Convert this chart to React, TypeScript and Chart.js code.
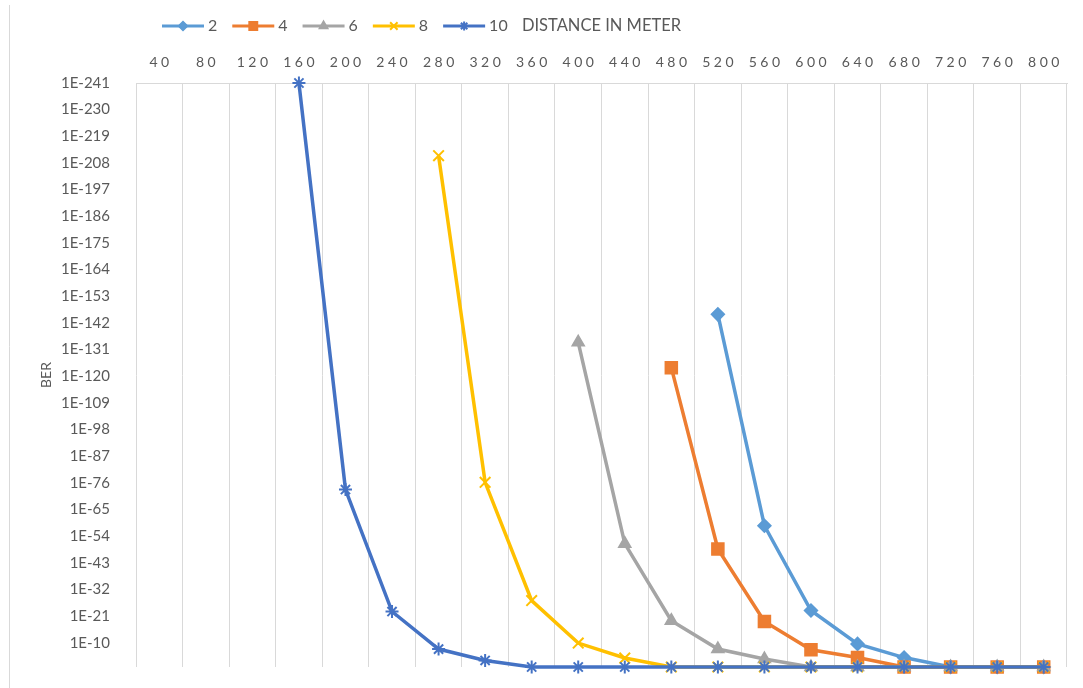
import { useEffect, useRef } from 'react';
import { Chart, registerables } from 'chart.js';
import { drawPoint } from 'chart.js/helpers';

Chart.register(...registerables);

// distance categories (metres), shown along the top
const DISTANCES = [
  '40', '80', '120', '160', '200', '240', '280', '320', '360', '400',
  '440', '480', '520', '560', '600', '640', '680', '720', '760', '800',
];

// BER per distance, one series per legend entry
const BER_2 = [null, null, null, null, null, null, null, null, null, null, null, null,
  3e-146, 5e-59, 5e-24, 3e-10, 1.3e-4, 1, 1, 1];
const BER_4 = [null, null, null, null, null, null, null, null, null, null, null,
  3e-124, 2e-49, 1.6e-19, 8e-8, 1.3e-4, 1, 1, 1, 1];
const BER_6 = [null, null, null, null, null, null, null, null, null,
  1e-134, 1.3e-51, 8e-20, 4e-8, 5e-4, 1, 1, 1, 1, 1, 1];
const BER_8 = [null, null, null, null, null, null,
  1e-211, 6e-77, 4e-28, 1.3e-10, 2e-4, 1, 1, 1, 1, 1, 1, 1, 1, 1];
const BER_10 = [null, null, null,
  1e-241, 6e-74, 1.3e-23, 4e-8, 2e-3, 1, 1, 1, 1, 1, 1, 1, 1, 1, 1, 1, 1];

const SERIES_LABELS = ['2', '4', '6', '8', '10'];
const SERIES_DATA = [BER_2, BER_4, BER_6, BER_8, BER_10];

// value axis labels (reversed log axis)
const Y_TICK_LABELS = [
  '1E-241', '1E-230', '1E-219', '1E-208', '1E-197', '1E-186', '1E-175', '1E-164',
  '1E-153', '1E-142', '1E-131', '1E-120', '1E-109', '1E-98', '1E-87', '1E-76',
  '1E-65', '1E-54', '1E-43', '1E-32', '1E-21', '1E-10',
];

const COLORS = ['#5B9BD5', '#ED7D31', '#A5A5A5', '#FFC000', '#4472C4'];
const MARKERS = ['rectRot', 'rect', 'triangle', 'crossRot', 'star'];
const MARKER_RADIUS = [6.5, 8.5, 7, 7.5, 6.5];
const TEXT = '#595959';
const GRID = '#D9D9D9';

// Excel-style legend (line + marker), spaced-out category labels and the left chart border
const excelDecor = {
  id: 'excelDecor',
  afterDraw(chart: any) {
    const ctx = chart.ctx;
    ctx.save();
    ctx.strokeStyle = GRID;
    ctx.lineWidth = 1;
    ctx.beginPath();
    ctx.moveTo(9.5, 5);
    ctx.lineTo(9.5, 688);
    ctx.stroke();

    // category labels, letter-spaced like the original
    const xScale = chart.scales.x;
    const spacing = 3.5;
    ctx.font = '14px Lato';
    ctx.fillStyle = TEXT;
    ctx.textAlign = 'center';
    ctx.textBaseline = 'middle';
    ctx.letterSpacing = spacing + 'px';
    xScale.ticks.forEach((t: any, i: number) => {
      const px = xScale.getPixelForTick(i);
      ctx.fillText(xScale.getLabelForValue(t.value), px + spacing / 2, 62);
    });
    ctx.letterSpacing = '0px';

    ctx.font = '16px Lato';
    ctx.textAlign = 'left';
    let x = 162;
    const y = 26;
    chart.data.datasets.forEach((ds: any) => {
      ctx.strokeStyle = ds.borderColor;
      ctx.lineWidth = 3;
      ctx.beginPath();
      ctx.moveTo(x, y);
      ctx.lineTo(x + 42, y);
      ctx.stroke();
      ctx.fillStyle = ds.pointBackgroundColor;
      ctx.strokeStyle = ds.pointBorderColor;
      ctx.lineWidth = ds.pointBorderWidth;
      drawPoint(ctx, {
        pointStyle: ds.pointStyle,
        radius: ds.pointRadius * 0.7,
        rotation: 0,
        borderWidth: ds.pointBorderWidth,
      }, x + 21, y);
      ctx.fillStyle = TEXT;
      ctx.fillText(ds.label, x + 46, y);
      x += 46 + ctx.measureText(ds.label).width + 15;
    });
    ctx.restore();
  },
};

export default function App() {
  const canvasRef = useRef<HTMLCanvasElement>(null);

  useEffect(() => {
    if (!canvasRef.current) return;
    Chart.defaults.font.family = 'Lato';

    const chart = new Chart(canvasRef.current, {
      type: 'line',
      data: {
        labels: DISTANCES,
        datasets: SERIES_DATA.map((values, i) => ({
          label: SERIES_LABELS[i],
          data: values,
          borderColor: COLORS[i],
          backgroundColor: COLORS[i],
          pointBackgroundColor: COLORS[i],
          pointBorderColor: COLORS[i],
          pointStyle: MARKERS[i],
          pointRadius: MARKER_RADIUS[i],
          pointBorderWidth: i >= 3 ? 2 : 1.5,
          borderWidth: 3.5,
          tension: 0,
          clip: false,
          order: SERIES_DATA.length - i,
        })),
      },
      options: {
        responsive: false,
        animation: false,
        layout: { padding: { top: 0, left: 0, right: 16, bottom: 21 } },
        plugins: {
          legend: { display: false },
          tooltip: { enabled: false },
        },
        scales: {
          x: {
            type: 'category',
            position: 'top',
            offset: true,
            grid: { offset: true, color: GRID, lineWidth: 1, drawTicks: false },
            border: { display: true, color: GRID, width: 1 },
            ticks: { display: false, autoSkip: false, maxRotation: 0 },
            title: {
              display: true,
              text: 'DISTANCE IN METER',
              color: TEXT,
              font: { size: 16.5 },
              padding: { top: 16, bottom: 0 },
            },
            afterFit: (s: any) => {
              s.height = 83;
            },
          },
          y: {
            type: 'logarithmic',
            reverse: true,
            min: 1e-241,
            max: 1,
            grid: { display: false },
            border: { display: false },
            afterBuildTicks: (s: any) => {
              s.ticks = Y_TICK_LABELS.map((t) => ({ value: Number(t) }));
            },
            ticks: {
              color: TEXT,
              font: { size: 15 },
              padding: 18,
              autoSkip: false,
              callback: (_v: any, i: number) => Y_TICK_LABELS[i],
            },
            title: {
              display: true,
              text: 'BER',
              color: TEXT,
              font: { size: 14 },
              padding: { top: 38, bottom: 0 },
            },
            afterFit: (s: any) => {
              s.width = 136;
              s.paddingTop = 0;
              s.paddingBottom = 0;
            },
          },
        },
      },
      plugins: [excelDecor],
    });

    return () => {
      chart.destroy();
    };
  }, []);

  return (
    <div style={{ position: 'fixed', left: 0, top: 0, width: 1083, height: 688, background: '#fff' }}>
      <canvas ref={canvasRef} width={1083} height={688} />
    </div>
  );
}
